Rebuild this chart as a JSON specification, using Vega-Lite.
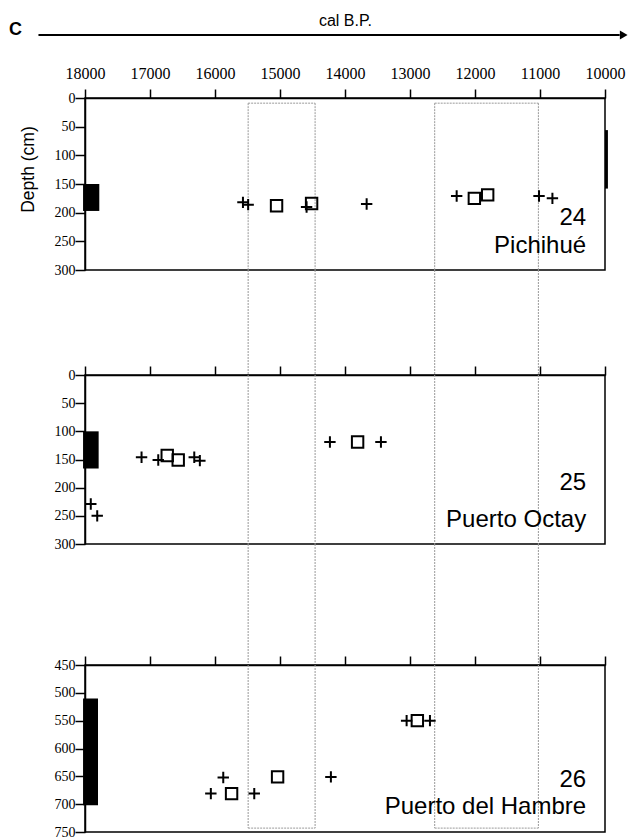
{
  "$schema": "https://vega.github.io/schema/vega-lite/v6.json",
  "background": "white",
  "padding": {"left": 8, "top": 11, "right": 0, "bottom": 0},
  "spacing": 0,
  "bounds": "flush",
  "config": {
    "view": {"stroke": "black", "strokeWidth": 1.5},
    "axis": {
      "domainColor": "black", "domainWidth": 1.5,
      "tickColor": "black", "tickWidth": 1.5,
      "labelFont": "Liberation Serif", "labelFontSize": 14, "labelColor": "black",
      "labelOverlap": false,
      "grid": false,
      "titleFont": "Liberation Sans", "titleFontWeight": "normal", "titleColor": "black"
    },
    "text": {"font": "Liberation Sans", "color": "black"}
  },
  "datasets": {
    "points": [
      {"site": "Pichihue", "year": 15570, "depth": 182, "kind": "plus"},
      {"site": "Pichihue", "year": 15490, "depth": 186, "kind": "plus"},
      {"site": "Pichihue", "year": 15053, "depth": 188, "kind": "square"},
      {"site": "Pichihue", "year": 14591, "depth": 190, "kind": "plus"},
      {"site": "Pichihue", "year": 14514, "depth": 184, "kind": "square"},
      {"site": "Pichihue", "year": 13667, "depth": 185, "kind": "plus"},
      {"site": "Pichihue", "year": 12282, "depth": 171, "kind": "plus"},
      {"site": "Pichihue", "year": 12010, "depth": 175, "kind": "square"},
      {"site": "Pichihue", "year": 11805, "depth": 169, "kind": "square"},
      {"site": "Pichihue", "year": 11015, "depth": 171, "kind": "plus"},
      {"site": "Pichihue", "year": 10809, "depth": 175, "kind": "plus"},
      {"site": "Octay", "year": 17911, "depth": 229, "kind": "plus"},
      {"site": "Octay", "year": 17812, "depth": 250, "kind": "plus"},
      {"site": "Octay", "year": 17130, "depth": 146, "kind": "plus"},
      {"site": "Octay", "year": 16873, "depth": 151, "kind": "plus"},
      {"site": "Octay", "year": 16735, "depth": 143, "kind": "square"},
      {"site": "Octay", "year": 16566, "depth": 151, "kind": "square"},
      {"site": "Octay", "year": 16319, "depth": 146, "kind": "plus"},
      {"site": "Octay", "year": 16233, "depth": 152, "kind": "plus"},
      {"site": "Octay", "year": 14232, "depth": 119, "kind": "plus"},
      {"site": "Octay", "year": 13806, "depth": 119, "kind": "square"},
      {"site": "Octay", "year": 13447, "depth": 119, "kind": "plus"},
      {"site": "Hambre", "year": 15873, "depth": 652, "kind": "plus"},
      {"site": "Hambre", "year": 16064, "depth": 681, "kind": "plus"},
      {"site": "Hambre", "year": 15745, "depth": 681, "kind": "square"},
      {"site": "Hambre", "year": 15396, "depth": 681, "kind": "plus"},
      {"site": "Hambre", "year": 15037, "depth": 651, "kind": "square"},
      {"site": "Hambre", "year": 14217, "depth": 651, "kind": "plus"},
      {"site": "Hambre", "year": 13052, "depth": 550, "kind": "plus"},
      {"site": "Hambre", "year": 12887, "depth": 550, "kind": "square"},
      {"site": "Hambre", "year": 12693, "depth": 550, "kind": "plus"}
    ],
    "cores": [
      {"site": "Pichihue", "x1": 18030, "x2": 17780, "d1": 150, "d2": 197},
      {"site": "Pichihue", "x1": 10000, "x2": 9955, "d1": 56, "d2": 158},
      {"site": "Octay", "x1": 18030, "x2": 17790, "d1": 100, "d2": 166},
      {"site": "Hambre", "x1": 18030, "x2": 17800, "d1": 510, "d2": 702}
    ],
    "bands": [{"x": 15490}, {"x": 14460}, {"x": 12620}, {"x": 11025}],
    "bandEdges": [{"start": 15490, "end": 14460}, {"start": 12620, "end": 11025}],
    "labels": [
      {"site": "Pichihue", "x": 10290, "depth": 221, "text": "24"},
      {"site": "Pichihue", "x": 10290, "depth": 270, "text": "Pichihué"},
      {"site": "Octay", "x": 10290, "depth": 205, "text": "25"},
      {"site": "Octay", "x": 10290, "depth": 269, "text": "Puerto Octay"},
      {"site": "Hambre", "x": 10290, "depth": 669, "text": "26"},
      {"site": "Hambre", "x": 10290, "depth": 718, "text": "Puerto del Hambre"}
    ],
    "header": [{"x1": 18716, "x2": 9774, "xh": 9712, "xc": 19170, "dline": -110, "dc": -119, "letter": "C"}]
  },
  "vconcat": [
    {
      "width": 520, "height": 172,
      "layer": [
        {
          "data": {"name": "bands"},
          "mark": {"type": "rule", "color": "#999999", "strokeWidth": 1, "strokeDash": [2, 1]},
          "encoding": {
            "x": {"field": "x", "type": "quantitative",
              "scale": {"domain": [18000, 10000], "nice": false, "zero": false},
              "axis": {"orient": "top", "values": [18000, 17000, 16000, 15000, 14000, 13000, 12000, 11000, 10000],
                "tickCount": 30, "format": "d", "tickSize": 9, "labelPadding": 8, "labelFlush": false, "labelOverlap": false,
                "labelFontSize": 16, "title": "cal B.P.", "titleFontSize": 16, "titlePadding": 37}},
            "y": {"datum": 9, "type": "quantitative",
              "scale": {"domain": [0, 300], "reverse": true, "nice": false, "zero": false},
              "axis": {"values": [0, 50, 100, 150, 200, 250, 300], "tickCount": 30, "tickSize": 10, "labelPadding": 0, "labelOverlap": false,
                "title": "Depth (cm)", "titleFontSize": 17.5, "titleX": -57, "titleY": 71,
                "titleAngle": -90, "titleAlign": "center", "titleBaseline": "middle"}},
            "y2": {"datum": 300}
          }
        },
        {
          "data": {"name": "bandEdges"},
          "mark": {"type": "rule", "color": "#999999", "strokeWidth": 1, "strokeDash": [2, 1]},
          "encoding": {
            "x": {"field": "start", "type": "quantitative"},
            "x2": {"field": "end"},
            "y": {"datum": 9, "type": "quantitative"}
          }
        },
        {
          "data": {"name": "cores"},
          "transform": [{"filter": "datum.site == 'Pichihue'"}],
          "mark": {"type": "rect", "color": "black"},
          "encoding": {
            "x": {"field": "x1", "type": "quantitative"}, "x2": {"field": "x2"},
            "y": {"field": "d1", "type": "quantitative"}, "y2": {"field": "d2"}
          }
        },
        {
          "data": {"name": "points"},
          "transform": [{"filter": "datum.site == 'Pichihue'"}],
          "mark": {"type": "point", "filled": false, "opacity": 1, "strokeWidth": 2, "size": 130, "color": "black"},
          "encoding": {
            "x": {"field": "year", "type": "quantitative"},
            "y": {"field": "depth", "type": "quantitative"},
            "shape": {"field": "kind", "type": "nominal",
              "scale": {"domain": ["plus", "square"], "range": ["M-1,0H1M0,-1V1", "square"]}, "legend": null}
          }
        },
        {
          "data": {"name": "labels"},
          "transform": [{"filter": "datum.site == 'Pichihue'"}],
          "mark": {"type": "text", "fontSize": 24, "align": "right", "baseline": "alphabetic"},
          "encoding": {
            "x": {"field": "x", "type": "quantitative"},
            "y": {"field": "depth", "type": "quantitative"},
            "text": {"field": "text"}
          }
        },
        {
          "data": {"name": "header"},
          "mark": {"type": "rule", "color": "black", "strokeWidth": 2},
          "encoding": {
            "x": {"field": "x1", "type": "quantitative"}, "x2": {"field": "x2"},
            "y": {"field": "dline", "type": "quantitative"}
          }
        },
        {
          "data": {"name": "header"},
          "mark": {"type": "point", "shape": "triangle-right", "filled": true, "opacity": 1, "size": 80, "color": "black"},
          "encoding": {
            "x": {"field": "xh", "type": "quantitative"},
            "y": {"field": "dline", "type": "quantitative"}
          }
        },
        {
          "data": {"name": "header"},
          "mark": {"type": "text", "fontSize": 18, "fontWeight": "bold", "align": "left", "baseline": "middle"},
          "encoding": {
            "x": {"field": "xc", "type": "quantitative"},
            "y": {"field": "dc", "type": "quantitative"},
            "text": {"field": "letter"}
          }
        }
      ]
    },
    {
      "width": 520, "height": 105,
      "view": {"stroke": null},
      "data": {"name": "bands"},
      "mark": {"type": "rule", "color": "#999999", "strokeWidth": 1, "strokeDash": [2, 1]},
      "encoding": {
        "x": {"field": "x", "type": "quantitative", "scale": {"domain": [18000, 10000], "nice": false, "zero": false}, "axis": null}
      }
    },
    {
      "width": 520, "height": 169,
      "layer": [
        {
          "data": {"name": "bands"},
          "mark": {"type": "rule", "color": "#999999", "strokeWidth": 1, "strokeDash": [2, 1]},
          "encoding": {
            "x": {"field": "x", "type": "quantitative",
              "scale": {"domain": [18000, 10000], "nice": false, "zero": false},
              "axis": {"orient": "top", "values": [18000, 17000, 16000, 15000, 14000, 13000, 12000, 11000, 10000],
                "tickCount": 30, "tickSize": 9, "labels": false, "title": null}},
            "y": {"datum": 0, "type": "quantitative",
              "scale": {"domain": [0, 300], "reverse": true, "nice": false, "zero": false},
              "axis": {"values": [0, 50, 100, 150, 200, 250, 300], "tickCount": 30, "tickSize": 10, "labelPadding": 0, "labelOverlap": false, "title": null}},
            "y2": {"datum": 300}
          }
        },
        {
          "data": {"name": "cores"},
          "transform": [{"filter": "datum.site == 'Octay'"}],
          "mark": {"type": "rect", "color": "black"},
          "encoding": {
            "x": {"field": "x1", "type": "quantitative"}, "x2": {"field": "x2"},
            "y": {"field": "d1", "type": "quantitative"}, "y2": {"field": "d2"}
          }
        },
        {
          "data": {"name": "points"},
          "transform": [{"filter": "datum.site == 'Octay'"}],
          "mark": {"type": "point", "filled": false, "opacity": 1, "strokeWidth": 2, "size": 130, "color": "black"},
          "encoding": {
            "x": {"field": "year", "type": "quantitative"},
            "y": {"field": "depth", "type": "quantitative"},
            "shape": {"field": "kind", "type": "nominal",
              "scale": {"domain": ["plus", "square"], "range": ["M-1,0H1M0,-1V1", "square"]}, "legend": null}
          }
        },
        {
          "data": {"name": "labels"},
          "transform": [{"filter": "datum.site == 'Octay'"}],
          "mark": {"type": "text", "fontSize": 24, "align": "right", "baseline": "alphabetic"},
          "encoding": {
            "x": {"field": "x", "type": "quantitative"},
            "y": {"field": "depth", "type": "quantitative"},
            "text": {"field": "text"}
          }
        }
      ]
    },
    {
      "width": 520, "height": 121,
      "view": {"stroke": null},
      "data": {"name": "bands"},
      "mark": {"type": "rule", "color": "#999999", "strokeWidth": 1, "strokeDash": [2, 1]},
      "encoding": {
        "x": {"field": "x", "type": "quantitative", "scale": {"domain": [18000, 10000], "nice": false, "zero": false}, "axis": null}
      }
    },
    {
      "width": 520, "height": 167,
      "layer": [
        {
          "data": {"name": "bands"},
          "mark": {"type": "rule", "color": "#999999", "strokeWidth": 1, "strokeDash": [2, 1]},
          "encoding": {
            "x": {"field": "x", "type": "quantitative",
              "scale": {"domain": [18000, 10000], "nice": false, "zero": false},
              "axis": {"orient": "top", "values": [18000, 17000, 16000, 15000, 14000, 13000, 12000, 11000, 10000],
                "tickCount": 30, "tickSize": 9, "labels": false, "title": null}},
            "y": {"datum": 450, "type": "quantitative",
              "scale": {"domain": [450, 750], "reverse": true, "nice": false, "zero": false},
              "axis": {"values": [450, 500, 550, 600, 650, 700, 750], "tickCount": 30, "tickSize": 10, "labelPadding": 0, "labelOverlap": false, "title": null}},
            "y2": {"datum": 743}
          }
        },
        {
          "data": {"name": "bandEdges"},
          "mark": {"type": "rule", "color": "#999999", "strokeWidth": 1, "strokeDash": [2, 1]},
          "encoding": {
            "x": {"field": "start", "type": "quantitative"},
            "x2": {"field": "end"},
            "y": {"datum": 743, "type": "quantitative"}
          }
        },
        {
          "data": {"name": "cores"},
          "transform": [{"filter": "datum.site == 'Hambre'"}],
          "mark": {"type": "rect", "color": "black"},
          "encoding": {
            "x": {"field": "x1", "type": "quantitative"}, "x2": {"field": "x2"},
            "y": {"field": "d1", "type": "quantitative"}, "y2": {"field": "d2"}
          }
        },
        {
          "data": {"name": "points"},
          "transform": [{"filter": "datum.site == 'Hambre'"}],
          "mark": {"type": "point", "filled": false, "opacity": 1, "strokeWidth": 2, "size": 130, "color": "black"},
          "encoding": {
            "x": {"field": "year", "type": "quantitative"},
            "y": {"field": "depth", "type": "quantitative"},
            "shape": {"field": "kind", "type": "nominal",
              "scale": {"domain": ["plus", "square"], "range": ["M-1,0H1M0,-1V1", "square"]}, "legend": null}
          }
        },
        {
          "data": {"name": "labels"},
          "transform": [{"filter": "datum.site == 'Hambre'"}],
          "mark": {"type": "text", "fontSize": 24, "align": "right", "baseline": "alphabetic"},
          "encoding": {
            "x": {"field": "x", "type": "quantitative"},
            "y": {"field": "depth", "type": "quantitative"},
            "text": {"field": "text"}
          }
        }
      ]
    }
  ]
}
